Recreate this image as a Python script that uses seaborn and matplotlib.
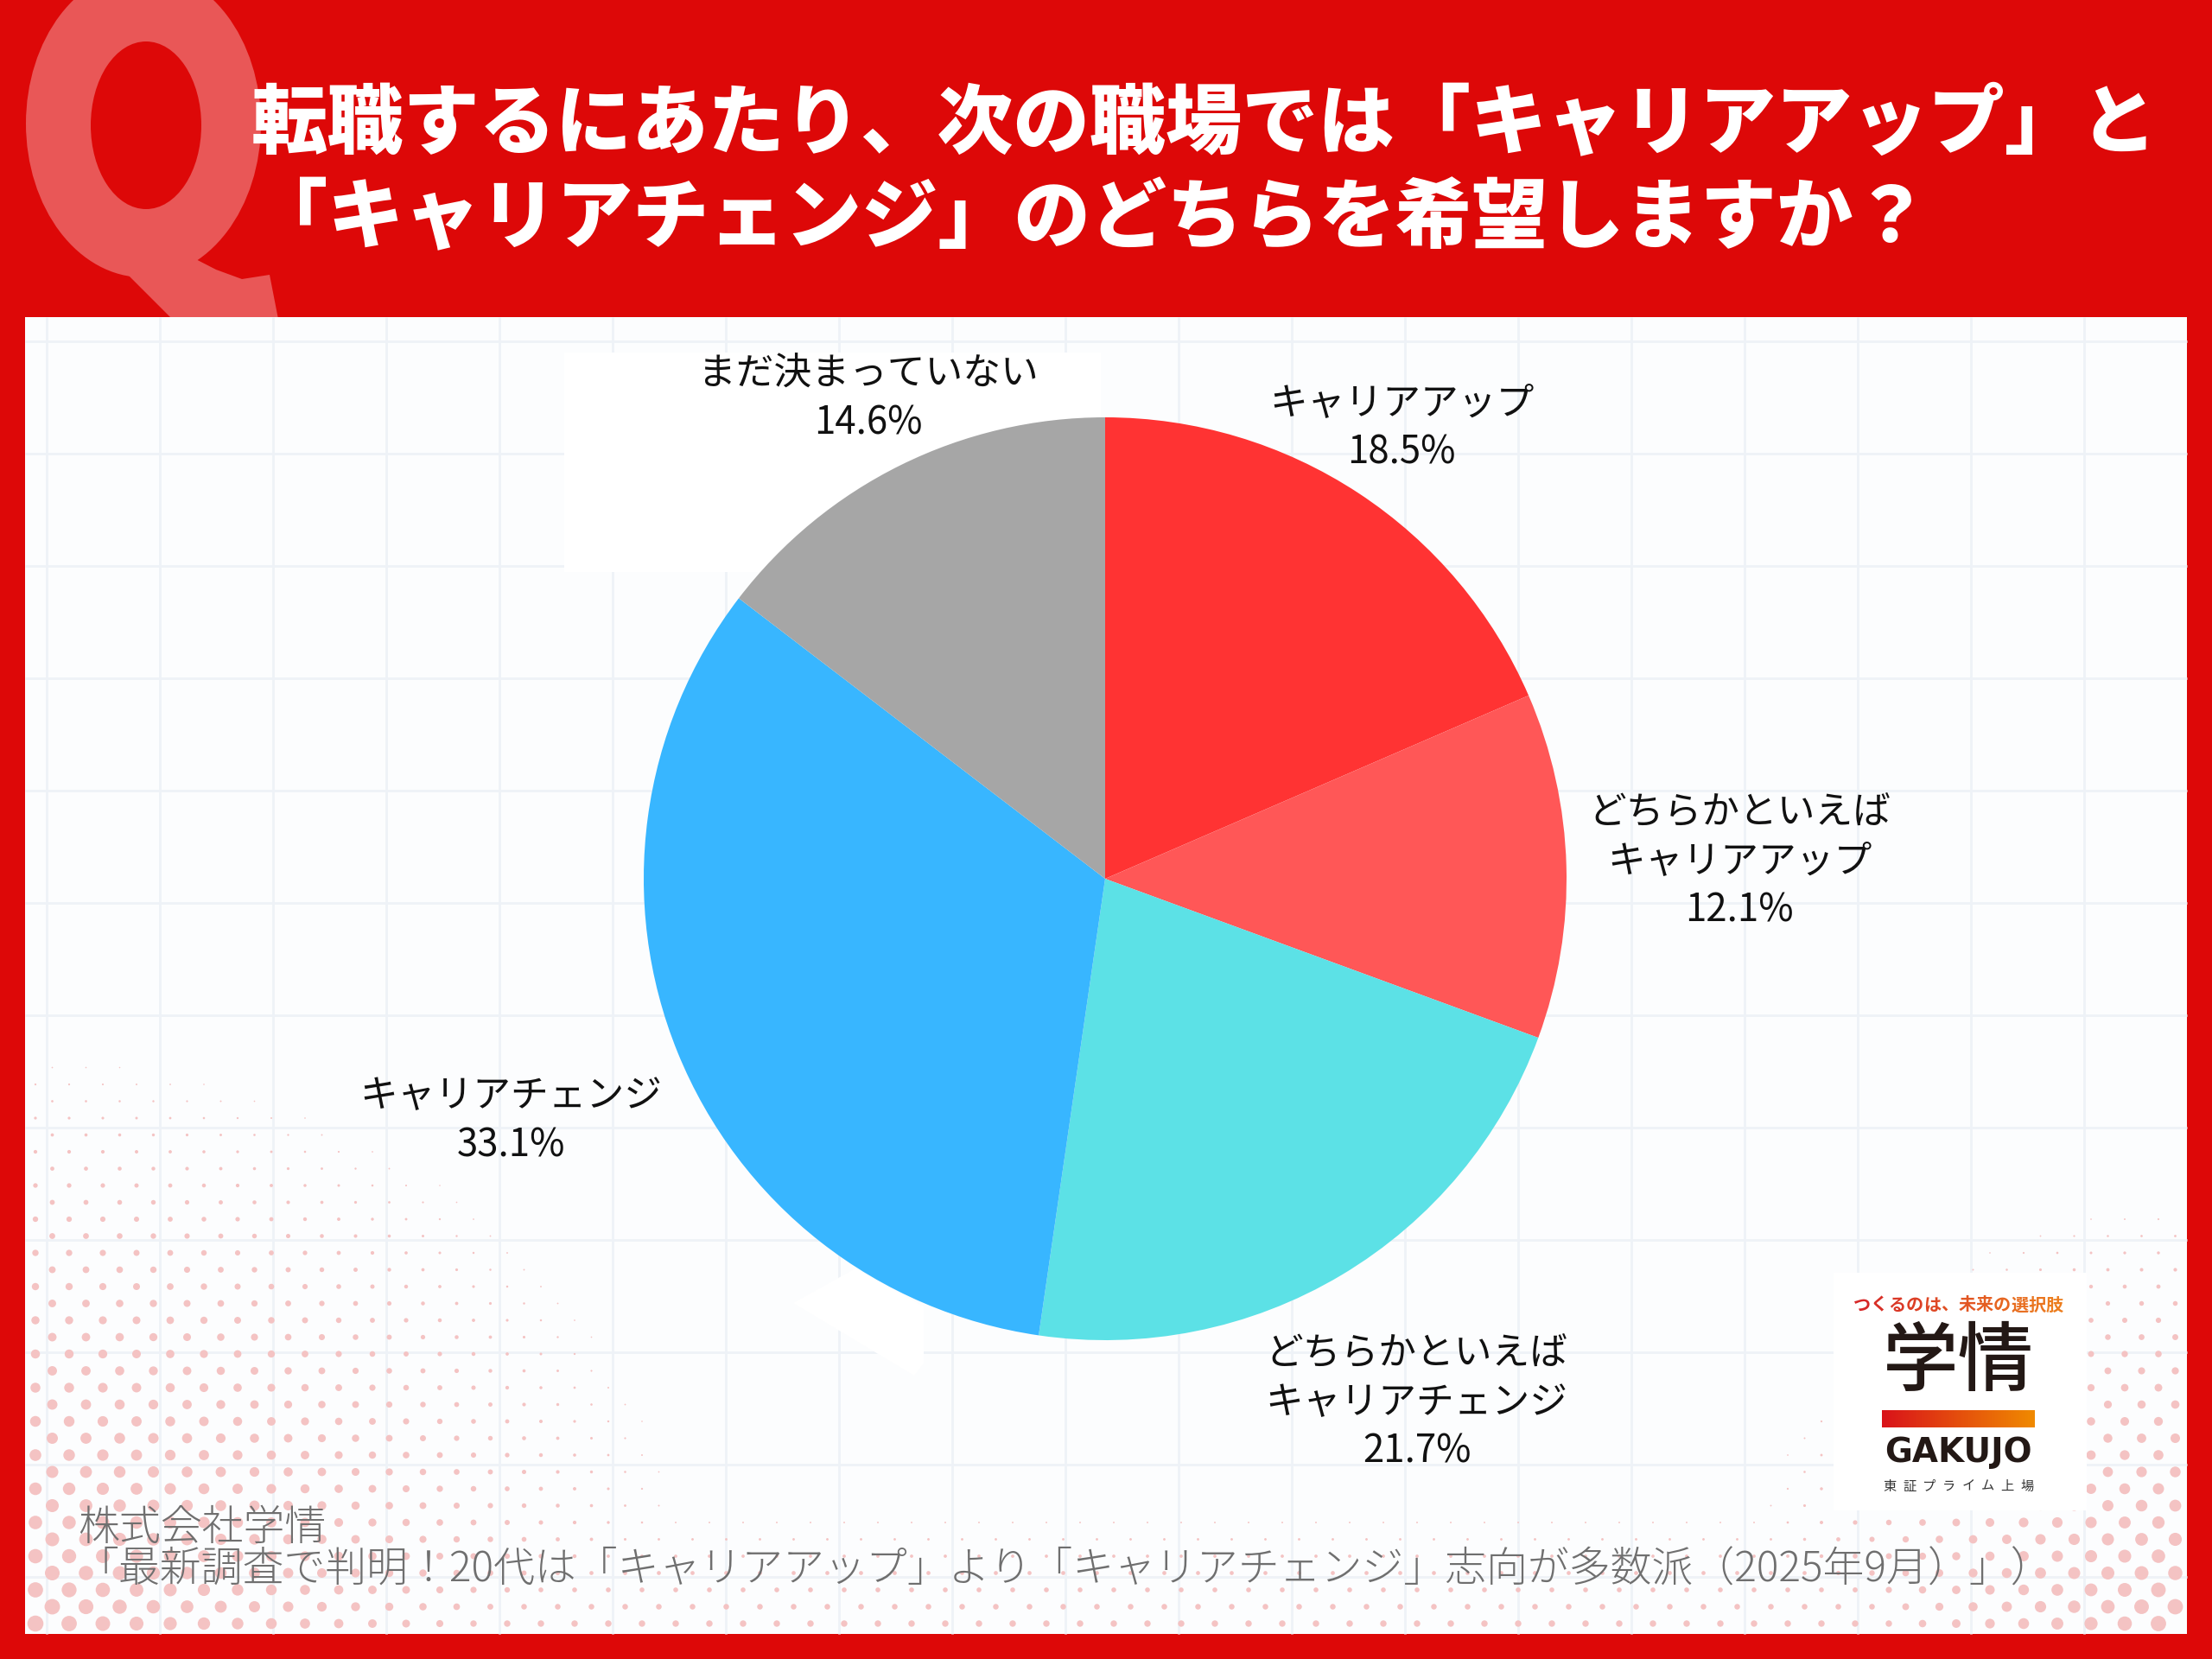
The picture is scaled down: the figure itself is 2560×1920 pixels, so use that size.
import numpy as np
import matplotlib
matplotlib.use("Agg")
import matplotlib.pyplot as plt
import seaborn as sns
from matplotlib.patches import Rectangle, Ellipse, Polygon
from matplotlib.colors import LinearSegmentedColormap, to_rgb

# ---------------- data ----------------
categories = [
    "キャリアアップ",
    "どちらかといえば\nキャリアアップ",
    "どちらかといえば\nキャリアチェンジ",
    "キャリアチェンジ",
    "まだ決まっていない",
]
values = [18.5, 12.1, 21.7, 33.1, 14.6]
slice_colors = ["#ff3333", "#ff5757", "#5ce1e6", "#38b6ff", "#a6a6a6"]
label_dist = [1.17, 1.375, 1.32, 1.39, 1.16]

title_lines = [
    "転職するにあたり、次の職場では「キャリアアップ」と",
    "「キャリアチェンジ」のどちらを希望しますか？",
]
source_lines = [
    "株式会社学情",
    "「最新調査で判明！20代は「キャリアアップ」より「キャリアチェンジ」志向が多数派（2025年9月）」）",
]
logo_tagline = "つくるのは、未来の選択肢"
logo_name = "学情"
logo_roman = "GAKUJO"
logo_sub = "東証プライム上場"

# ---------------- style ----------------
sns.set_theme(style="white")
plt.rcParams["font.family"] = ["Noto Sans CJK JP", "DejaVu Sans"]

W, H = 2560, 1920
RED = "#dd0808"
fig = plt.figure(figsize=(W / 100, H / 100), dpi=100)
fig.patch.set_facecolor(RED)

bg = fig.add_axes([0, 0, 1, 1])
bg.set_xlim(0, W)
bg.set_ylim(H, 0)
bg.axis("off")

# big decorative Q
QC = "#e95757"
bg.add_patch(Ellipse((166, 143), 272, 356, facecolor=QC, edgecolor="none", zorder=1))
bg.add_patch(Ellipse((169, 145), 128, 194, facecolor=RED, edgecolor="none", zorder=1.1))
bg.add_patch(Polygon([(123, 293), (213, 293), (250, 312), (280, 323), (312, 318), (328, 400), (230, 400)],
                     closed=True, facecolor=QC, edgecolor="none", zorder=1))

# title
for i, line in enumerate(title_lines):
    bg.text(291, 144 + i * 109, line, color="white", fontsize=63.5, fontweight="black",
            ha="left", va="center", zorder=3)

# panel
PX0, PY0, PX1, PY1 = 29, 367, 2531, 1891
panel = Rectangle((PX0, PY0), PX1 - PX0, PY1 - PY0, facecolor="#fcfdfe", edgecolor="none", zorder=2)
bg.add_patch(panel)

# faint grid
gx = np.arange(54, PX1, 131)
gy = np.arange(395, PY1, 130)
bg.vlines(gx, PY0, PY1, colors="#eef2f7", linewidth=2.0, zorder=2.1)
bg.hlines(gy, PX0, PX1, colors="#eef2f7", linewidth=2.0, zorder=2.1)

# halftone dots (decoration)
hstep, vstep = 39.0, 19.5
rows = np.arange(PY1 - 12, PY0, -vstep)
dx_list, dy_list = [], []
for r_i, yy in enumerate(rows):
    off = (hstep / 2) if r_i % 2 else 0.0
    xx = np.arange(PX0 + 12 + off, PX1, hstep)
    dx_list.append(xx)
    dy_list.append(np.full_like(xx, yy))
hx = np.concatenate(dx_list)
hy = np.concatenate(dy_list)
f1 = 1 - np.sqrt(((hx - PX0) / 840) ** 2 + ((PY1 - hy) / 720) ** 2)
f2 = 1 - np.sqrt(((PX1 - hx) / 560) ** 2 + ((PY1 - hy) / 540) ** 2)
f3 = 0.42 * (1 - (PY1 - hy) / 170)
fac = np.maximum.reduce([f1, f2, f3])
m = fac > 0.08
diam = 19.0 * np.clip(fac[m], 0, 1)
dots = bg.scatter(hx[m], hy[m], s=(diam * 0.72) ** 2, c="#f4c3c3", linewidths=0, zorder=2.2)
dots.set_clip_path(panel)

# white boxes
bg.add_patch(Rectangle((653, 408), 621, 254, facecolor="white", edgecolor="none", zorder=2.3))
bg.add_patch(Polygon([(918, 1508), (990, 1468), (1069, 1512), (1069, 1578), (1058, 1592)],
                     closed=True, facecolor="white", edgecolor="none", zorder=2.3))

# logo
bg.add_patch(Rectangle((2122, 1473), 293, 275, facecolor="white", edgecolor="none", zorder=4))
c0, c1 = np.array(to_rgb("#d62828")), np.array(to_rgb("#ec7d1e"))
n = len(logo_tagline)
for i, ch in enumerate(logo_tagline):
    t = i / (n - 1)
    bg.text(2145 + (i + 0.5) * 20.25, 1510, ch, color=tuple(c0 * (1 - t) + c1 * t),
            fontsize=14.5, fontweight="bold", ha="center", va="center", zorder=5)
bg.text(2266, 1578, logo_name, color="#231815", fontsize=63, fontweight="medium",
        ha="center", va="center", zorder=5)
grad = LinearSegmentedColormap.from_list("g", ["#d9121a", "#f08a00"])
bg.imshow(np.linspace(0, 1, 256)[None, :], cmap=grad, extent=(2178, 2355, 1652, 1632),
          aspect="auto", zorder=5, interpolation="bilinear")
bg.text(2266, 1681, logo_roman, color="#231815", fontsize=28, fontweight="bold",
        family="DejaVu Sans", ha="center", va="center", zorder=5)
ns = len(logo_sub)
for i, ch in enumerate(logo_sub):
    bg.text(2187 + i * (2346 - 2187) / (ns - 1), 1720, ch, color="#333333", fontsize=11,
            ha="center", va="center", zorder=5)

# source text
for i, line in enumerate(source_lines):
    bg.text(90, 1768 + i * 49, line, color="#6f6f6f", fontsize=34.5, fontweight="light",
            ha="left", va="center", zorder=6)

bg.set_xlim(0, W)
bg.set_ylim(H, 0)

# ---------------- pie ----------------
cx, cy, R = 1279, 1017, 534
lim = 1.5
size = 2 * lim * R
ax = fig.add_axes([(cx - size / 2) / W, (H - cy - size / 2) / H, size / W, size / H])
ax.set_facecolor("none")
palette = sns.color_palette(slice_colors)
ax.pie(values, colors=palette, startangle=90, counterclock=False, radius=1,
       wedgeprops=dict(linewidth=0, edgecolor="none"))
ax.set_xlim(-lim, lim)
ax.set_ylim(-lim, lim)
ax.axis("off")

cum = np.cumsum([0] + values[:-1])
for cat, v, c, d in zip(categories, values, cum, label_dist):
    ang = np.deg2rad(90 - 360 * (c + v / 2) / 100)
    ax.text(d * np.cos(ang), d * np.sin(ang), f"{cat}\n{v:.1f}%", ha="center", va="center",
            fontsize=31.5, color="#111111", linespacing=1.3)

fig.savefig("out.png", dpi=100, facecolor=RED)
